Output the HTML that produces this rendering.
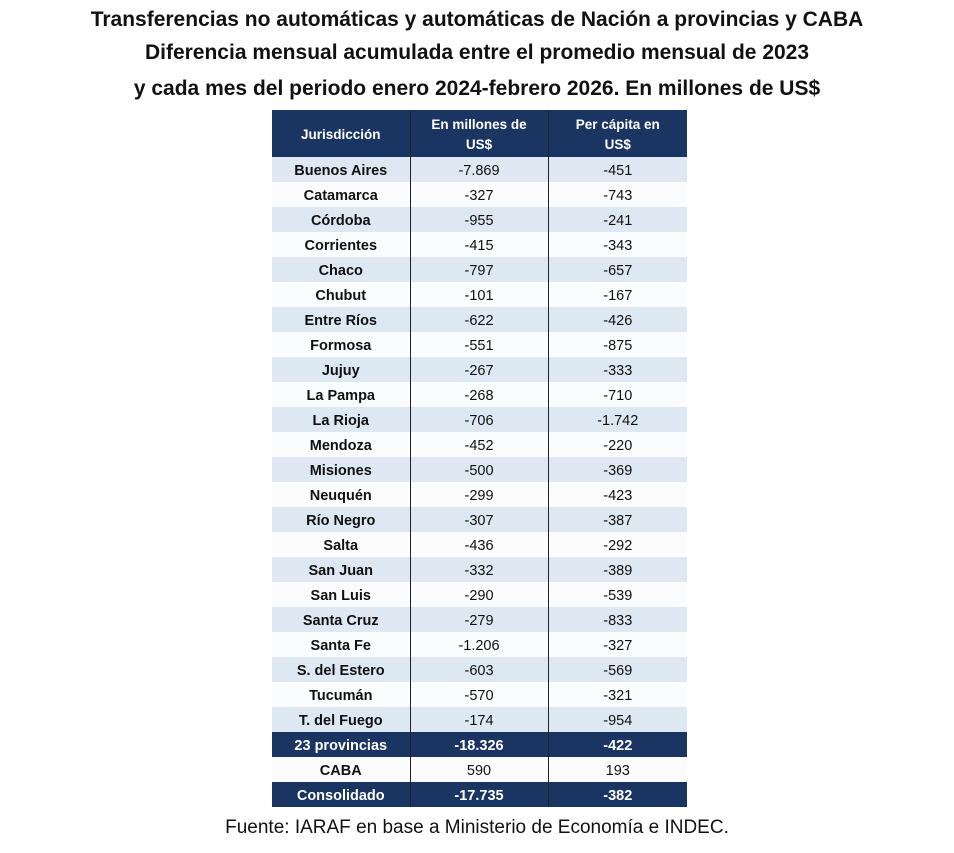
<!DOCTYPE html>
<html><head><meta charset="utf-8"><style>
body{margin:0;width:954px;height:853px;background:#fff;font-family:"Liberation Sans",sans-serif;position:relative;overflow:hidden}
.t{position:absolute;left:0;width:954px;text-align:center;font-weight:bold;font-size:21px;color:#111;}
table{position:absolute;left:272px;top:110px;border-collapse:collapse;width:415px;table-layout:fixed}
td,th{text-align:center;font-size:14.5px;height:23px;padding:2px 0 0 0;color:#111;border-left:1.5px solid #222;line-height:20px}
td:first-child,th:first-child{border-left:none;font-weight:bold}
th{background:#1b3562;color:#fff;font-weight:bold;font-size:13.5px;height:45px;line-height:20px}
tr.l td{background:#dde8f3}
tr.w td{background:#fafcfe}
tr.d td{background:#1b3562;color:#fff;font-weight:bold}
.f{position:absolute;top:817px;left:0;width:954px;text-align:center;font-size:19px;color:#111}
</style></head><body>
<div class="t" style="top:8px">Transferencias no automáticas y automáticas de Nación a provincias y CABA</div>
<div class="t" style="top:41px">Diferencia mensual acumulada entre el promedio mensual de 2023</div>
<div class="t" style="top:77px">y cada mes del periodo enero 2024-febrero 2026. En millones de US$</div>
<table>
<col style="width:138px"><col style="width:138px"><col style="width:139px">
<tr><th>Jurisdicción</th><th>En millones de<br>US$</th><th>Per cápita en<br>US$</th></tr>
<tr class="l"><td>Buenos Aires</td><td>-7.869</td><td>-451</td></tr>
<tr class="w"><td>Catamarca</td><td>-327</td><td>-743</td></tr>
<tr class="l"><td>Córdoba</td><td>-955</td><td>-241</td></tr>
<tr class="w"><td>Corrientes</td><td>-415</td><td>-343</td></tr>
<tr class="l"><td>Chaco</td><td>-797</td><td>-657</td></tr>
<tr class="w"><td>Chubut</td><td>-101</td><td>-167</td></tr>
<tr class="l"><td>Entre Ríos</td><td>-622</td><td>-426</td></tr>
<tr class="w"><td>Formosa</td><td>-551</td><td>-875</td></tr>
<tr class="l"><td>Jujuy</td><td>-267</td><td>-333</td></tr>
<tr class="w"><td>La Pampa</td><td>-268</td><td>-710</td></tr>
<tr class="l"><td>La Rioja</td><td>-706</td><td>-1.742</td></tr>
<tr class="w"><td>Mendoza</td><td>-452</td><td>-220</td></tr>
<tr class="l"><td>Misiones</td><td>-500</td><td>-369</td></tr>
<tr class="w"><td>Neuquén</td><td>-299</td><td>-423</td></tr>
<tr class="l"><td>Río Negro</td><td>-307</td><td>-387</td></tr>
<tr class="w"><td>Salta</td><td>-436</td><td>-292</td></tr>
<tr class="l"><td>San Juan</td><td>-332</td><td>-389</td></tr>
<tr class="w"><td>San Luis</td><td>-290</td><td>-539</td></tr>
<tr class="l"><td>Santa Cruz</td><td>-279</td><td>-833</td></tr>
<tr class="w"><td>Santa Fe</td><td>-1.206</td><td>-327</td></tr>
<tr class="l"><td>S. del Estero</td><td>-603</td><td>-569</td></tr>
<tr class="w"><td>Tucumán</td><td>-570</td><td>-321</td></tr>
<tr class="l"><td>T. del Fuego</td><td>-174</td><td>-954</td></tr>
<tr class="d"><td>23 provincias</td><td>-18.326</td><td>-422</td></tr>
<tr class="w"><td>CABA</td><td>590</td><td>193</td></tr>
<tr class="d"><td>Consolidado</td><td>-17.735</td><td>-382</td></tr>
</table>
<div class="f">Fuente: IARAF en base a Ministerio de Economía e INDEC.</div>
</body></html>
